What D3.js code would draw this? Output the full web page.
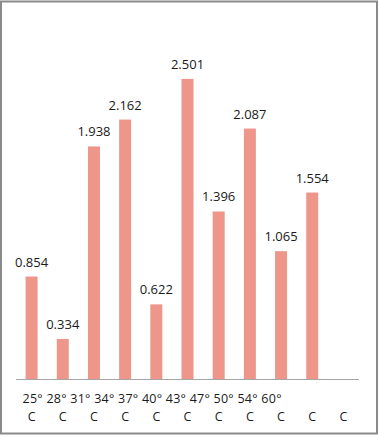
<!DOCTYPE html>
<html><head><meta charset="utf-8">
<script src="https://cdn.jsdelivr.net/npm/d3@7"></script>
<style>html,body{margin:0;padding:0;background:#fff;}svg{display:block;}</style>
</head><body>
<svg id="c" width="379" height="437"></svg>
<script>
const temps = ["25°","28°","31°","34°","37°","40°","43°","47°","50°","54°","60°"];
const units = ["C","C","C","C","C","C","C","C","C","C","C"];
const values = [0.854, 0.334, 1.938, 2.162, 0.622, 2.501, 1.396, 2.087, 1.065, 1.554, null];

const svg = d3.select("#c");
const font = "'Open Sans', sans-serif";
svg.append("rect").attr("x",1).attr("y",1.5).attr("width",376).attr("height",432)
  .attr("fill","#fff").attr("stroke","#8a8a8a").attr("stroke-width",2);

const x = d3.scaleBand().domain(d3.range(temps.length)).range([16,359]).paddingInner(0.615).paddingOuter(0.3075);
const y = d3.scaleLinear().domain([0,3]).range([379,19]);

const data = values.map((v,i)=>({v,i})).filter(d=>d.v!=null);

svg.selectAll("rect.bar").data(data).enter()
  .append("rect").attr("class","bar")
  .attr("x",d=>x(d.i)).attr("width",x.bandwidth())
  .attr("y",d=>y(d.v)).attr("height",d=>y(0)-y(d.v))
  .attr("fill","#ee968a");

svg.selectAll("text.val").data(data).enter()
  .append("text").attr("class","val")
  .attr("x",d=>x(d.i)+x.bandwidth()/2).attr("y",d=>y(d.v)-10)
  .attr("text-anchor","middle").attr("font-family",font).attr("font-size",13).attr("fill","#1a1a1a")
  .text(d=>d.v.toFixed(3));

svg.append("line").attr("x1",16).attr("x2",359).attr("y1",379.5).attr("y2",379.5)
  .attr("stroke","#a6a6a6").attr("stroke-width",1);

svg.append("text").attr("x",22.5).attr("y",403).attr("font-family",font).attr("font-size",12.5).attr("fill","#1a1a1a")
  .attr("textLength",259).attr("lengthAdjust","spacing")
  .text(temps.join(" "));

svg.selectAll("text.unit").data(units).enter().append("text").attr("class","unit")
  .attr("x",(d,i)=>x(i)+x.bandwidth()/2).attr("y",421)
  .attr("text-anchor","middle").attr("font-family",font).attr("font-size",12.5).attr("fill","#1a1a1a")
  .text(d=>d);
</script>
</body></html>
